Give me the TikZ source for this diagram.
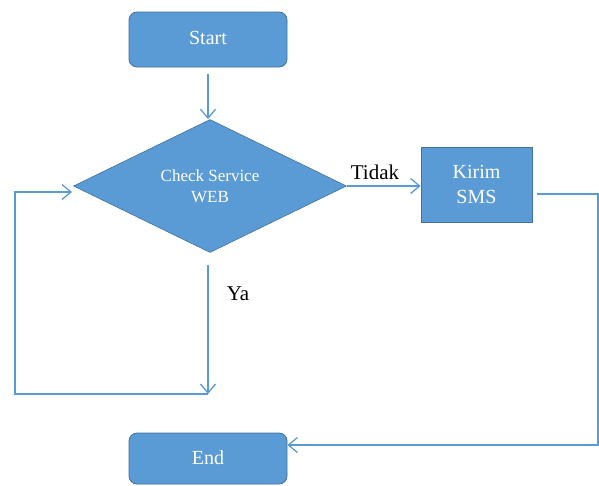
\documentclass[tikz,border=0pt]{standalone}
\usepackage{fontspec}
\setmainfont{Liberation Serif}
\usetikzlibrary{shapes.geometric,arrows.meta}
\definecolor{boxfill}{HTML}{5B9BD5}
\definecolor{boxedge}{HTML}{41719C}
\definecolor{linecol}{HTML}{5B9BD5}
\tikzset{
  termbox/.style={draw=boxedge, line width=0.8pt, fill=boxfill, rounded corners=8pt,
    minimum width=158pt, minimum height=55pt, inner sep=0pt, text=white,
    font=\fontsize{20}{24}\selectfont},
  procbox/.style={draw=boxedge, line width=0.8pt, fill=boxfill,
    minimum width=111pt, minimum height=75pt, inner sep=0pt, text=white, align=center,
    font=\fontsize{20}{25}\selectfont},
  decbox/.style={diamond, draw=boxedge, line width=0.6pt, fill=boxfill,
    minimum width=273pt, minimum height=133pt, inner sep=0pt, text=white, align=center,
    font=\fontsize{17}{21}\selectfont},
  lbl/.style={font=\fontsize{21}{24}\selectfont, inner sep=0pt, text=black},
  conn/.style={draw=linecol, line width=1.3pt},
  arr/.style={conn, -{Straight Barb[length=9pt,width=15pt,line width=1.3pt]}},
}
\begin{document}
\begin{tikzpicture}[x=1pt,y=-1pt]
\useasboundingbox (0,0) rectangle (599,485);
\node[termbox] (start) at (208,39.5) {\raisebox{3pt}{Start}};
\node[decbox] (dec) at (210,186) {Check Service\\WEB};
\node[procbox] (kirim) at (476.5,184.5) {Kirim\\SMS};
\node[termbox, minimum height=51pt] (end) at (208,458.5) {\raisebox{2pt}{End}};
\node[lbl] (tidak) at (375,172) {Tidak};
\node[lbl] (ya) at (238,294) {Ya};
% coordinates for bends
\coordinate (k2) at (598,194);
\coordinate (k3) at (598,445);
\coordinate (y1) at (208,265);
\coordinate (y2) at (208,394);
\coordinate (l1) at (15,394);
\coordinate (l2) at (15,192);
\coordinate (l3) at (72,192);
% connectors
\draw[arr, shorten <=7pt] (start.south) -- (start.south |- dec.north);
\draw[arr] (dec.east) -- (kirim.west |- dec.east);
\draw[arr, shorten <=5pt] (kirim.east |- k2) -- (k2) -- (k3) -- (end.east |- k3);
\draw[arr] (y1) -- (y2);
\draw[arr] (y2) -- (l1) -- (l2) -- (l3);
\end{tikzpicture}
\end{document}
